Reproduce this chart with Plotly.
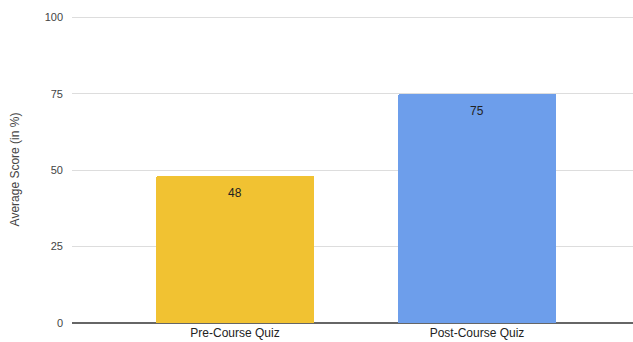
import plotly.graph_objects as go

categories = ["Pre-Course Quiz", "Post-Course Quiz"]
scores = [48, 75]
bar_colors = ["#F1C232", "#6D9EEB"]
y_ticks = [0, 25, 50, 75, 100]

FONT = "Liberation Sans, Arial, sans-serif"

fig = go.Figure()
fig.add_trace(go.Bar(
    x=categories, y=scores,
    marker=dict(color=bar_colors, line=dict(width=0), cornerradius=2),
    width=0.65,
    hoverinfo="x+y",
))
for c, v in zip(categories, scores):
    fig.add_annotation(
        x=c, y=v, text=str(v), showarrow=False,
        yanchor="top", yshift=-8,
        font=dict(family=FONT, size=12, color="#222222"),
    )

fig.update_layout(
    width=633, height=342,
    margin=dict(l=72, r=0, t=16, b=19),
    paper_bgcolor="white", plot_bgcolor="white",
    font=dict(family=FONT, size=11, color="#444444"),
    showlegend=False,
    bargap=0,
)
fig.update_xaxes(
    range=[-0.6736, 1.6446],
    showgrid=False, ticks="", showline=False,
    tickfont=dict(family=FONT, size=12, color="#222222"),
    ticklabelstandoff=1, automargin=False,
)
fig.update_yaxes(
    range=[0, 100.4], tickvals=y_ticks,
    showgrid=True, gridcolor="#dddddd", gridwidth=1,
    zeroline=True, zerolinecolor="#666666", zerolinewidth=1.5,
    ticks="", ticklabelstandoff=8, automargin=False,
    tickfont=dict(family=FONT, size=11, color="#444444"),
    title=dict(text="Average Score (in %)", font=dict(family=FONT, size=12, color="#444444"), standoff=22),
)
fig.write_html("out.html")
